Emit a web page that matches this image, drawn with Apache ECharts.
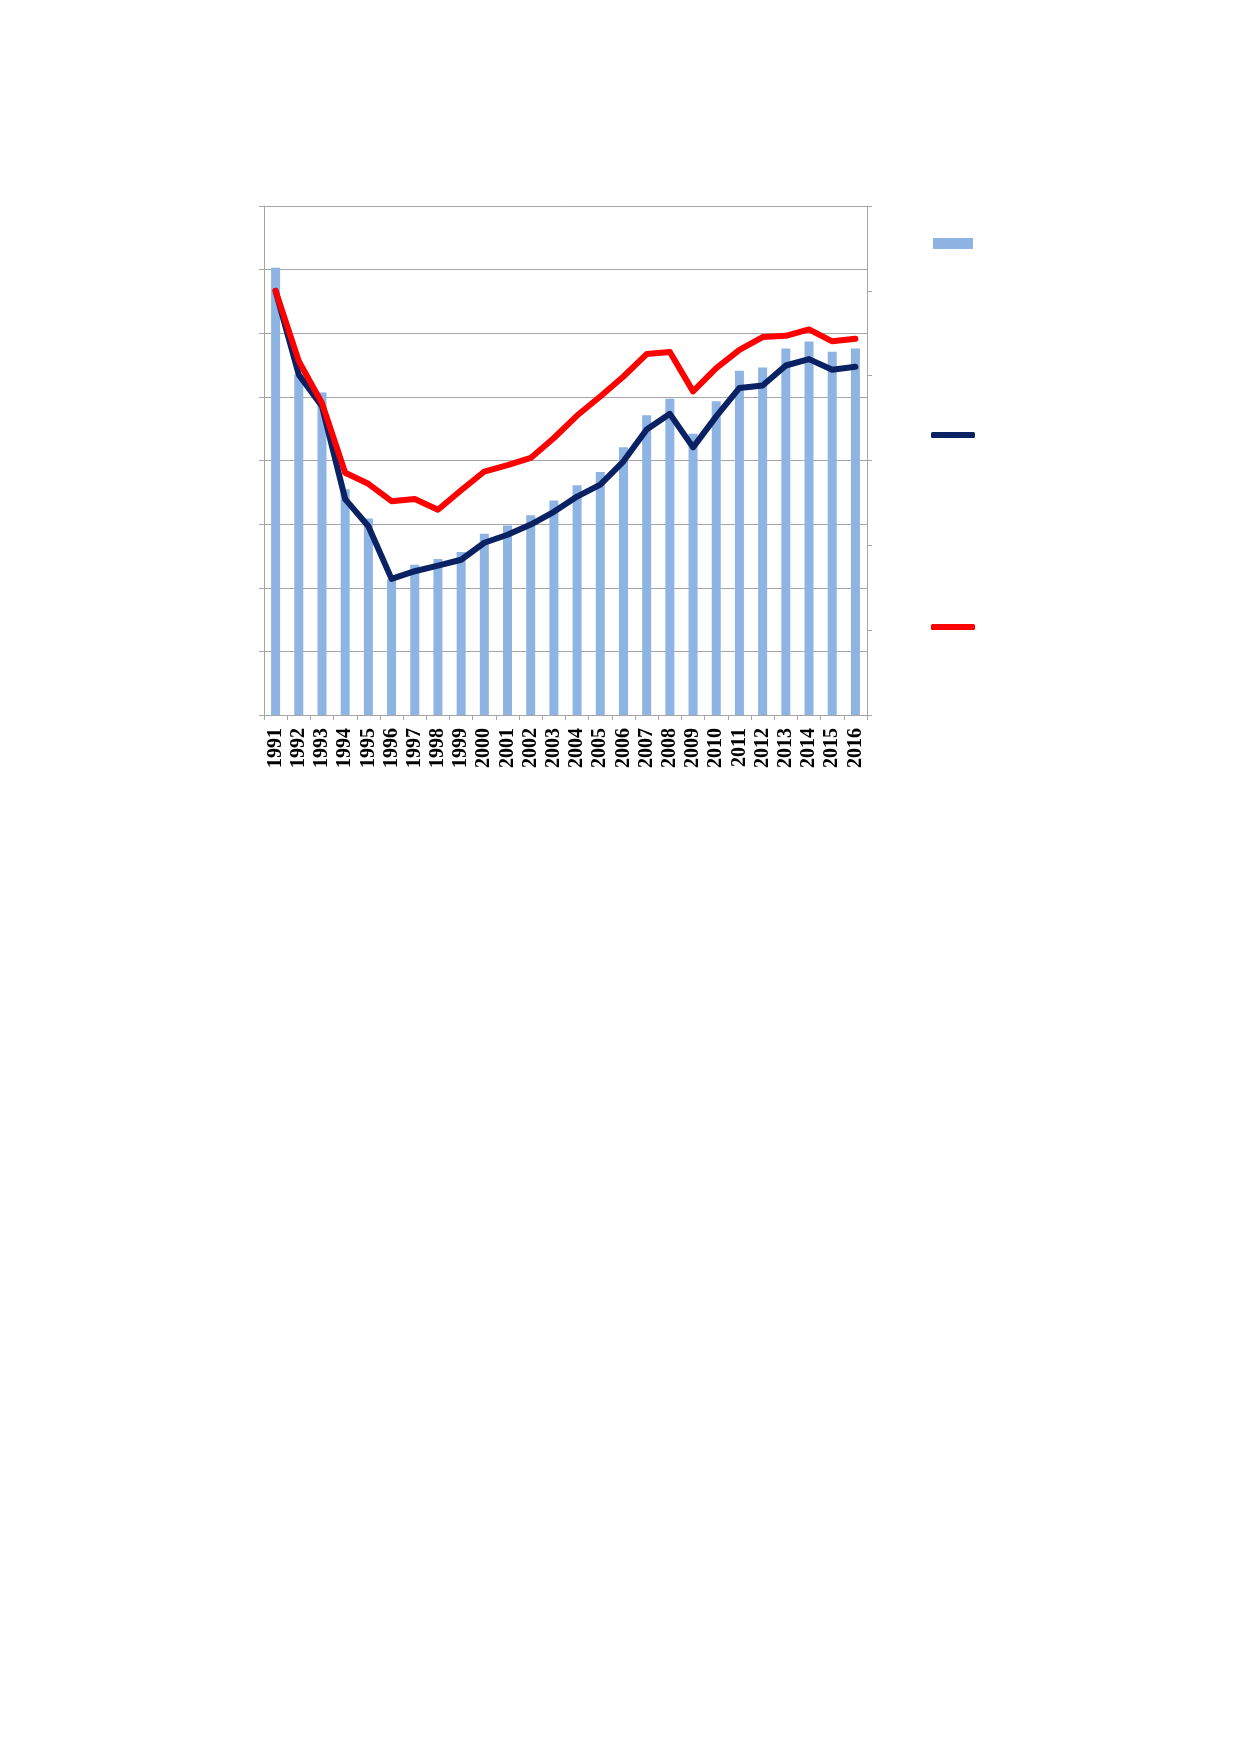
<!DOCTYPE html>
<html>
<head>
<meta charset="utf-8">
<script src="https://cdn.jsdelivr.net/npm/echarts@6/dist/echarts.min.js"></script>
<style>
html,body{margin:0;padding:0;background:#fff;}
#chart{width:1239px;height:1752px;}
</style>
</head>
<body>
<div id="chart"></div>
<script>
const years = ['1991','1992','1993','1994','1995','1996','1997','1998','1999','2000','2001','2002','2003','2004','2005','2006','2007','2008','2009','2010','2011','2012','2013','2014','2015','2016'];
const barValues = [70.3,53.5,50.7,35.5,30.9,21.3,23.6,24.5,25.6,28.5,29.8,31.4,33.7,36.1,38.2,42.1,47.1,49.7,44.2,49.3,54.1,54.6,57.6,58.7,57.1,57.6];
const navyValues = [100,80.2,72.8,50.9,44.5,32.1,33.9,35.2,36.6,40.6,42.5,44.9,47.9,51.5,54.3,59.8,67.3,71.0,63.1,70.4,77.1,77.7,82.4,83.9,81.4,82.1];
const redValues = [100,83.4,73.5,57.1,54.5,50.4,50.9,48.4,53.0,57.4,58.9,60.6,65.3,70.6,75.1,79.8,85.1,85.6,76.3,81.8,86.1,89.1,89.4,90.9,88.1,88.7];
const seriesNames = ['Series 1','Series 2','Series 3'];

const gridColor = '#a6a6a6';
const chart = echarts.init(document.getElementById('chart'), null, {renderer:'canvas'});
const noText = function(){ return ''; };
chart.setOption({
  animation:false,
  backgroundColor:'#ffffff',
  grid:{left:264,right:372,top:206,bottom:1037,containLabel:false},
  legend:[
    {data:[{name:seriesNames[0],icon:'rect'}],left:933,top:238,padding:0,itemWidth:40,itemHeight:11,formatter:noText,selectedMode:false},
    {data:[{name:seriesNames[1],icon:'roundRect'}],left:931,top:432,padding:0,itemWidth:44,itemHeight:6,formatter:noText,selectedMode:false},
    {data:[{name:seriesNames[2],icon:'roundRect'}],left:931,top:624,padding:0,itemWidth:44,itemHeight:6,formatter:noText,selectedMode:false}
  ],
  xAxis:{
    type:'category',data:years,boundaryGap:true,
    axisLine:{lineStyle:{color:gridColor,width:1}},
    axisTick:{show:true,alignWithLabel:false,length:5,lineStyle:{color:gridColor}},
    axisLabel:{rotate:90,margin:13,color:'#000',fontFamily:'Liberation Serif, Times New Roman, serif',fontWeight:'bold',fontSize:20,interval:0}
  },
  yAxis:[
    {type:'value',min:0,max:80,interval:10,position:'left',
     axisLine:{show:true,lineStyle:{color:gridColor}},
     axisTick:{show:true,length:5,lineStyle:{color:gridColor}},
     axisLabel:{show:false},
     splitLine:{show:true,lineStyle:{color:gridColor,width:1}}},
    {type:'value',min:0,max:120,interval:20,position:'right',
     axisLine:{show:true,lineStyle:{color:gridColor}},
     axisTick:{show:true,length:5,lineStyle:{color:gridColor}},
     axisLabel:{show:false},
     splitLine:{show:false}}
  ],
  series:[
    {name:seriesNames[0],type:'bar',data:barValues,yAxisIndex:0,barWidth:9,itemStyle:{color:'#8db4e2'},z:2},
    {name:seriesNames[1],type:'line',data:navyValues,yAxisIndex:1,showSymbol:false,symbol:'none',
     itemStyle:{color:'#0a2263'},lineStyle:{color:'#0a2263',width:6,cap:'round',join:'round'},z:3},
    {name:seriesNames[2],type:'line',data:redValues,yAxisIndex:1,showSymbol:false,symbol:'none',
     itemStyle:{color:'#ff0000'},lineStyle:{color:'#ff0000',width:6,cap:'round',join:'round'},z:4}
  ]
});
</script>
</body>
</html>
